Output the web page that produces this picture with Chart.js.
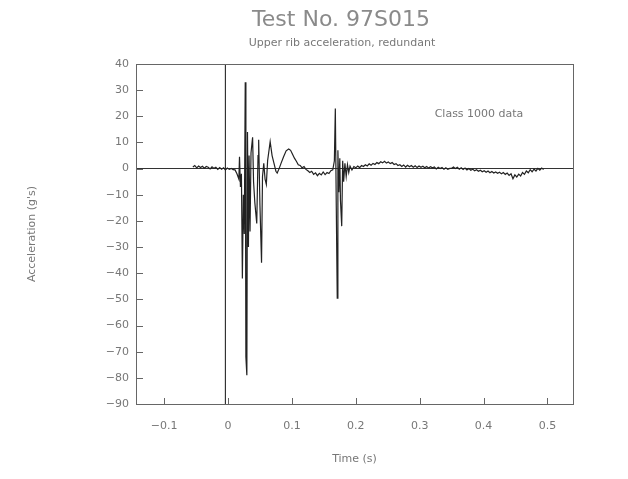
<!DOCTYPE html>
<html>
<head>
<meta charset="utf-8">
<script src="https://cdn.jsdelivr.net/npm/chart.js@4.4.0/dist/chart.umd.min.js"></script>
<style>
html,body{margin:0;padding:0;background:#fff;}
</style>
</head>
<body>
<canvas id="grafico" width="628" height="479"></canvas>
<script>

// Dados

const tempo = [
  -0.055,-0.052,-0.049,-0.046,-0.043,-0.040,-0.037,-0.034,-0.031,-0.028,-0.025,-0.022,-0.019,-0.016,-0.013,-0.010,-0.007,-0.004,-0.001,0.002,0.005,0.008,
  0.011,0.014,0.017,0.018,0.0195,0.021,0.0225,0.024,0.0255,0.027,0.028,0.0295,0.0305,0.032,0.033,0.0345,0.036,0.0385,0.040,0.042,0.045,0.047,0.048,0.050,0.0525,0.054,0.056,0.058,0.060,0.062,0.066,0.069,0.072,0.075,0.077,0.080,0.083,0.087,0.091,0.095,0.098,0.101,0.104,0.107,0.110,
  0.113,0.116,0.119,0.122,0.125,0.128,0.131,0.134,0.137,0.140,0.143,0.146,0.149,0.152,0.155,0.158,0.161,0.164,
  0.1665,0.168,0.1695,0.171,0.172,0.1735,0.175,0.176,0.178,0.1795,0.181,0.183,0.185,0.187,0.189,0.191,0.194,0.197,
  0.200,0.203,0.206,0.209,0.212,0.215,0.218,0.221,0.224,0.227,0.230,0.233,0.236,0.239,0.242,0.245,0.248,0.251,0.254,0.257,0.260,0.263,0.266,
  0.269,0.272,0.275,0.278,0.281,0.284,0.287,0.290,0.293,0.296,0.299,0.302,0.305,0.308,0.311,0.314,0.317,0.320,0.323,0.326,0.329,0.332,0.335,0.338,0.341,0.344,0.347,
  0.350,0.353,0.356,0.359,0.362,0.365,0.368,0.371,0.374,0.377,0.380,0.383,0.386,0.389,0.392,0.395,0.398,0.401,0.404,0.407,0.410,0.413,0.416,0.419,0.422,0.425,0.428,0.431,0.434,0.437,0.440,0.443,0.446,0.449,0.452,0.455,0.458,0.461,0.464,0.467,0.470,0.473,0.476,0.479,0.482,0.485,0.488,0.491,0.494
];

const aceleracao = [
  0.6,1.2,0.3,1.0,0.4,0.9,0.2,0.8,0.5,-0.1,0.7,0.1,0.5,-0.3,0.4,-0.2,0.3,-0.5,0.2,-0.3,0.1,-0.4,
  -0.5,-2,-4,4.5,-7,-2,-42,-10,-25,33,-72,-79,14,-30,5,-24,6,12,-5,-13,-21,5,11,-14,-36,-3,2,-4,-6,3,10.3,5,2,-1,-1.7,0,2,4.5,6.8,7.5,7,5.5,4,2.8,1.5,
  1.2,0.3,0.8,-0.3,-0.8,-1.5,-1.0,-2.2,-1.6,-2.7,-1.8,-2.4,-1.3,-2.3,-1.5,-1.9,-0.8,-0.5,
  3,23,-15,-49.5,7,-9,4,-12,-22,3,-5,2,-3,1.5,-1.5,1,-0.5,0.8,
  0.3,1.0,0.4,1.2,0.8,1.5,1.0,1.8,1.3,2.0,1.6,2.3,1.9,2.6,2.2,2.8,2.1,2.5,1.9,2.3,1.6,1.9,1.2,
  1.5,0.8,1.4,0.6,1.3,0.7,1.2,0.5,1.1,0.4,1.0,0.5,0.9,0.3,0.8,0.2,0.7,0.3,0.6,-0.1,0.5,0.0,0.4,-0.2,0.3,-0.3,0.1,
  0.1,0.6,0.0,0.5,-0.2,0.3,-0.3,0.2,-0.5,0.0,-0.6,-0.2,-0.8,-0.4,-1.0,-0.6,-1.2,-0.8,-1.4,-0.9,-1.6,-1.1,-1.7,-1.3,-1.8,-1.4,-2.0,-1.5,-2.2,-1.7,-2.6,-2.0,-3.9,-2.4,-3.2,-2.1,-2.8,-1.5,-2.2,-0.9,-1.6,-0.4,-1.2,-0.2,-0.9,0.1,-0.6,0.2,-0.3
];

const marcaTempo = -0.004;

const limitesX = [-0.144, 0.54];
const limitesY = [-90, 40];

const ticksX = [-0.1, 0, 0.1, 0.2, 0.3, 0.4, 0.5];
const ticksY = [40, 30, 20, 10, 0, -10, -20, -30, -40, -50, -60, -70, -80, -90];

const titulo = "Test No. 97S015";
const subtitulo = "Upper rib acceleration, redundant";
const anotacao = "Class 1000 data";
const tituloX = "Time (s)";
const tituloY = "Acceleration (g's)";

const corTexto = '#777';
const fonte = "'DejaVu Sans', sans-serif";

function rotulo(v){
    return v < 0 ? '\u2212' + Math.abs(v) : String(v);
}

// Moldura, marcas internas e textos

const moldura = {
    id: 'moldura',
    afterDraw(chart){
        const {ctx, chartArea: a, scales} = chart;
        ctx.save();
        ctx.strokeStyle = '#666';
        ctx.lineWidth = 1;
        ctx.strokeRect(a.left + 0.5, a.top + 0.5, a.right - a.left, a.bottom - a.top);

        ctx.beginPath();
        ticksX.forEach(v => {
            const x = Math.round(scales.x.getPixelForValue(v)) + 0.5;
            ctx.moveTo(x, a.bottom);
            ctx.lineTo(x, a.bottom - 6);
        });
        ticksY.forEach(v => {
            const y = Math.round(scales.y.getPixelForValue(v)) + 0.5;
            ctx.moveTo(a.left, y);
            ctx.lineTo(a.left + 7, y);
        });
        ctx.stroke();

        ctx.fillStyle = '#8a8a8a';
        ctx.textAlign = 'center';
        ctx.textBaseline = 'middle';
        ctx.font = "22px " + fonte;
        ctx.fillText(titulo, 341, 20);
        ctx.fillStyle = corTexto;
        ctx.font = "11px " + fonte;
        ctx.fillText(subtitulo, 342, 43);
        ctx.fillText(anotacao, 479, 114);
        ctx.restore();
    }
};

new Chart(

    document.getElementById("grafico"),

    {
    type: "line",

    data: {
        datasets: [
            {
                data: tempo.map((t, i) => ({x: t, y: aceleracao[i]})),
                borderColor: '#222',
                borderWidth: 1.2,
                pointRadius: 0,
                tension: 0
            },
            {
                data: [{x: marcaTempo, y: limitesY[1]}, {x: marcaTempo, y: limitesY[0]}],
                borderColor: '#333',
                borderWidth: 1,
                pointRadius: 0
            }
        ]
    },

    options: {
        responsive: false,
        animation: false,
        devicePixelRatio: 1,
        layout: {padding: {left: 0, right: 55, top: 64, bottom: 0}},
        plugins: {
            legend: {display: false},
            tooltip: {enabled: false}
        },
        scales: {
            x: {
                type: 'linear',
                min: limitesX[0],
                max: limitesX[1],
                afterBuildTicks: s => { s.ticks = ticksX.map(v => ({value: v})); },
                afterFit: s => { s.height = 75; },
                grid: {display: false},
                border: {display: true, color: '#666'},
                ticks: {
                    callback: v => rotulo(v),
                    color: corTexto,
                    font: {family: fonte, size: 11},
                    padding: 8,
                    maxRotation: 0
                },
                title: {
                    display: true,
                    text: tituloX,
                    color: corTexto,
                    font: {family: fonte, size: 11},
                    padding: {top: 0, bottom: 13}
                }
            },
            y: {
                min: limitesY[0],
                max: limitesY[1],
                afterBuildTicks: s => { s.ticks = ticksY.map(v => ({value: v})); },
                afterFit: s => { s.width = 136; },
                grid: {
                    drawTicks: false,
                    color: c => c.tick && c.tick.value === 0 ? '#333' : 'rgba(0,0,0,0)'
                },
                border: {display: true, color: '#666'},
                ticks: {
                    callback: v => rotulo(v),
                    color: corTexto,
                    font: {family: fonte, size: 11},
                    padding: 7
                },
                title: {
                    display: true,
                    text: tituloY,
                    color: corTexto,
                    font: {family: fonte, size: 11},
                    padding: {top: 26, bottom: 0}
                }
            }
        }
    },

    plugins: [moldura]
    }

);

</script>
</body>
</html>
